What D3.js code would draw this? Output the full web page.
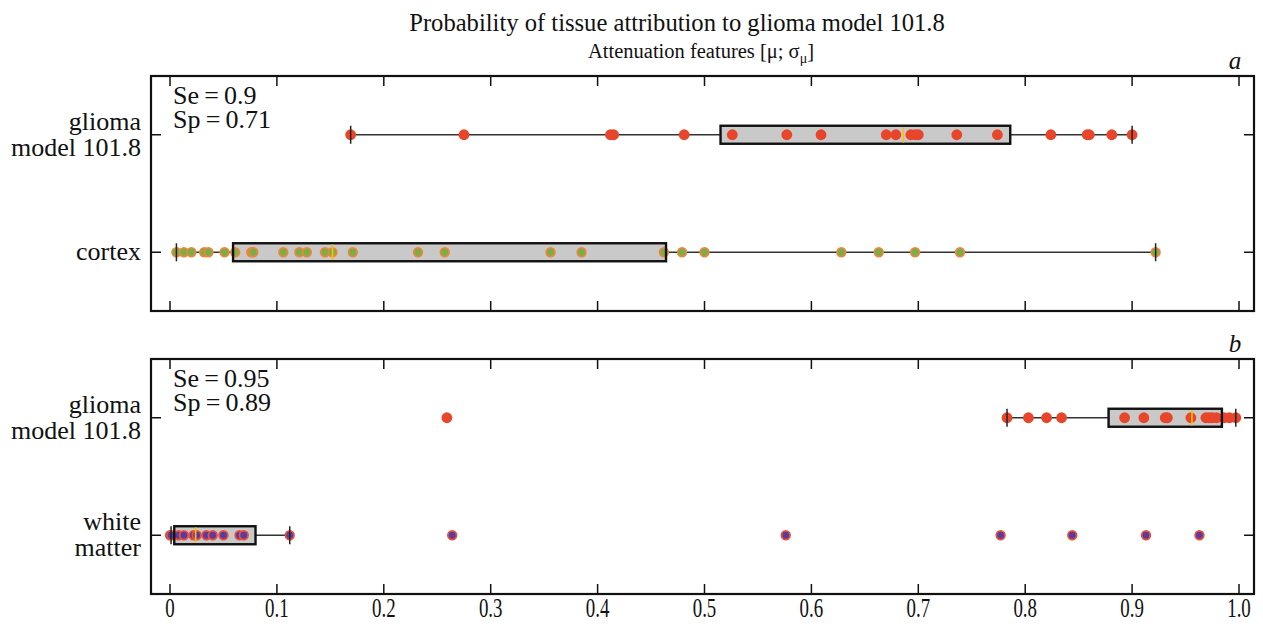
<!DOCTYPE html>
<html>
<head>
<meta charset="utf-8">
<script src="https://cdn.jsdelivr.net/npm/d3@7"></script>
<style>
  html, body { margin: 0; padding: 0; background: #fff; }
  svg { display: block; }
  text { font-family: "Liberation Serif", "Times New Roman", serif; fill: #111; }
</style>
</head>
<body>
<svg id="chart" width="1263" height="630"></svg>
<script>
// Probability values per tissue sample
const gliomaA = [0.169, 0.275, 0.412, 0.415, 0.481, 0.526, 0.577, 0.609, 0.670, 0.679,
                 0.693, 0.697, 0.700, 0.736, 0.774, 0.824, 0.858, 0.860, 0.881, 0.900];
const cortexA = [0.006, 0.013, 0.020, 0.032, 0.036, 0.051, 0.061, 0.076, 0.078, 0.106, 0.121,
                 0.128, 0.145, 0.152, 0.171, 0.232, 0.257, 0.356, 0.385, 0.462, 0.479,
                 0.500, 0.628, 0.663, 0.697, 0.739, 0.922];
const gliomaB = [0.259, 0.783, 0.803, 0.820, 0.834, 0.893, 0.911, 0.931, 0.933, 0.955,
                 0.969, 0.972, 0.975, 0.979, 0.986, 0.991, 0.997];
const whiteMatterB = [0.000, 0.001, 0.008, 0.013, 0.022, 0.025, 0.034, 0.040, 0.050, 0.065,
                      0.069, 0.112, 0.264, 0.576, 0.777, 0.844, 0.913, 0.963];

// Box summaries: [lower whisker, Q1, median, Q3, upper whisker]
const boxGliomaA = [0.169, 0.515, 0.686, 0.786, 0.900];
const boxCortexA = [0.006, 0.059, 0.152, 0.464, 0.922];
const boxGliomaB = [0.783, 0.878, 0.956, 0.984, 0.997];
const boxWhiteMatterB = [0.001, 0.004, 0.024, 0.080, 0.112];

// Category labels (one array of lines per category)
const labelsA = [["glioma", "model 101.8"], ["cortex"]];
const labelsB = [["glioma", "model 101.8"], ["white", "matter"]];

// Classification quality
const statsA = ["Se\u2009=\u20090.9", "Sp\u2009=\u20090.71"];
const statsB = ["Se\u2009=\u20090.95", "Sp\u2009=\u20090.89"];
const panelLetters = ["a", "b"];

// Axis ticks
const tickValues = [0, 0.1, 0.2, 0.3, 0.4, 0.5, 0.6, 0.7, 0.8, 0.9, 1.0];
const tickLabels = ["0", "0.1", "0.2", "0.3", "0.4", "0.5", "0.6", "0.7", "0.8", "0.9", "1.0"];

const titleText = "Probability of tissue attribution to glioma model 101.8";

const svg = d3.select("#chart");

const frameLeft = 151, frameRight = 1254;
const x = d3.scaleLinear().domain([0, 1]).range([170, 1239]);

const styles = {
  glioma: { fill: "#e8462a", stroke: "#e8462a", sw: 0, r: 5.4 },
  cortex: { fill: "#74b046", stroke: "#f0843c", sw: 1.8, r: 4.3 },
  white:  { fill: "#5b3b9e", stroke: "#e8523c", sw: 1.8, r: 4.3 }
};

const panels = [
  { top: 76, bottom: 311, letter: panelLetters[0], labels: labelsA, stats: statsA,
    rows: [ { values: gliomaA, box: boxGliomaA, style: styles.glioma },
            { values: cortexA, box: boxCortexA, style: styles.cortex } ] },
  { top: 359, bottom: 594, letter: panelLetters[1], labels: labelsB, stats: statsB,
    rows: [ { values: gliomaB, box: boxGliomaB, style: styles.glioma },
            { values: whiteMatterB, box: boxWhiteMatterB, style: styles.white } ] }
];

// Title and subtitle
svg.append("text")
  .attr("x", 677).attr("y", 31)
  .attr("text-anchor", "middle")
  .style("font-size", "24.6px")
  .text(titleText);

const sub = svg.append("text")
  .attr("x", 701).attr("y", 58)
  .attr("text-anchor", "middle")
  .style("font-size", "20.5px");
sub.append("tspan").text("Attenuation features [\u03bc; \u03c3");
sub.append("tspan").attr("dy", 5).style("font-size", "14px").text("\u03bc");
sub.append("tspan").attr("dy", -5).text("]");

panels.forEach(p => {
  const y = d3.scaleLinear().domain([0.5, 2.5]).range([p.top, p.bottom]);
  const g = svg.append("g");

  // panel letter
  g.append("text")
    .attr("x", 1235).attr("y", p.top - 7)
    .attr("text-anchor", "middle")
    .style("font-size", "25px").style("font-style", "italic")
    .text(p.letter);

  // x ticks along top and bottom edges, pointing inward
  const tickLen = 10;
  g.selectAll(".xtb").data(tickValues).join("line")
    .attr("x1", d => x(d)).attr("x2", d => x(d))
    .attr("y1", p.bottom).attr("y2", p.bottom - tickLen)
    .attr("stroke", "#111").attr("stroke-width", 1.5);
  g.selectAll(".xtt").data(tickValues).join("line")
    .attr("x1", d => x(d)).attr("x2", d => x(d))
    .attr("y1", p.top).attr("y2", p.top + tickLen)
    .attr("stroke", "#111").attr("stroke-width", 1.5);

  // y ticks on both sides
  [1, 2].forEach(c => {
    g.append("line").attr("x1", frameLeft).attr("x2", frameLeft + tickLen)
      .attr("y1", y(c)).attr("y2", y(c)).attr("stroke", "#111").attr("stroke-width", 1.5);
    g.append("line").attr("x1", frameRight).attr("x2", frameRight - tickLen)
      .attr("y1", y(c)).attr("y2", y(c)).attr("stroke", "#111").attr("stroke-width", 1.5);
  });

  // category labels
  p.labels.forEach((lines, i) => {
    const cy = y(i + 1);
    const lh = 26;
    const t = g.append("text")
      .attr("text-anchor", "end")
      .style("font-size", "26px");
    lines.forEach((ln, j) => {
      t.append("tspan")
        .attr("x", 141)
        .attr("y", cy + 8 + (j - (lines.length - 1) / 2) * lh)
        .text(ln);
    });
  });

  // Se / Sp
  p.stats.forEach((s, j) => {
    g.append("text")
      .attr("x", 173).attr("y", p.top + 28 + j * 24)
      .style("font-size", "26px")
      .text(s);
  });

  // box plots
  p.rows.forEach((row, i) => {
    const cy = y(i + 1);
    const [wlo, q1, med, q3, whi] = row.box;
    const bh = 18;

    // whiskers
    g.append("line").attr("x1", x(wlo)).attr("x2", x(q1)).attr("y1", cy).attr("y2", cy)
      .attr("stroke", "#333").attr("stroke-width", 1.4);
    g.append("line").attr("x1", x(q3)).attr("x2", x(whi)).attr("y1", cy).attr("y2", cy)
      .attr("stroke", "#333").attr("stroke-width", 1.4);

    // box fill
    g.append("rect")
      .attr("x", x(q1)).attr("y", cy - bh / 2)
      .attr("width", x(q3) - x(q1)).attr("height", bh)
      .attr("fill", "#c9c9c9");

    // points
    g.selectAll(null).data(row.values).join("circle")
      .attr("cx", d => x(d)).attr("cy", cy)
      .attr("r", row.style.r)
      .attr("fill", row.style.fill)
      .attr("stroke", row.style.stroke)
      .attr("stroke-width", row.style.sw);

    // box outline
    g.append("rect")
      .attr("x", x(q1)).attr("y", cy - bh / 2)
      .attr("width", x(q3) - x(q1)).attr("height", bh)
      .attr("fill", "none").attr("stroke", "#111").attr("stroke-width", 2.4);

    // median
    g.append("line").attr("x1", x(med)).attr("x2", x(med))
      .attr("y1", cy - bh / 2 + 1.2).attr("y2", cy + bh / 2 - 1.2)
      .attr("stroke", "#ffc000").attr("stroke-width", 1.6);

    // whisker caps
    [wlo, whi].forEach(v => {
      g.append("line").attr("x1", x(v)).attr("x2", x(v))
        .attr("y1", cy - 9).attr("y2", cy + 9)
        .attr("stroke", "#222").attr("stroke-width", 1.5);
    });
  });

  // frame
  g.append("rect")
    .attr("x", frameLeft).attr("y", p.top)
    .attr("width", frameRight - frameLeft).attr("height", p.bottom - p.top)
    .attr("fill", "none").attr("stroke", "#111").attr("stroke-width", 2.2);
});

// x tick labels under the lower panel (narrow, tall digits)
svg.append("g").selectAll("text").data(tickValues).join("text")
  .attr("transform", d => `translate(${x(d)},617) scale(0.7,1)`)
  .attr("text-anchor", "middle")
  .style("font-size", "27px")
  .text((d, i) => tickLabels[i]);
</script>
</body>
</html>
